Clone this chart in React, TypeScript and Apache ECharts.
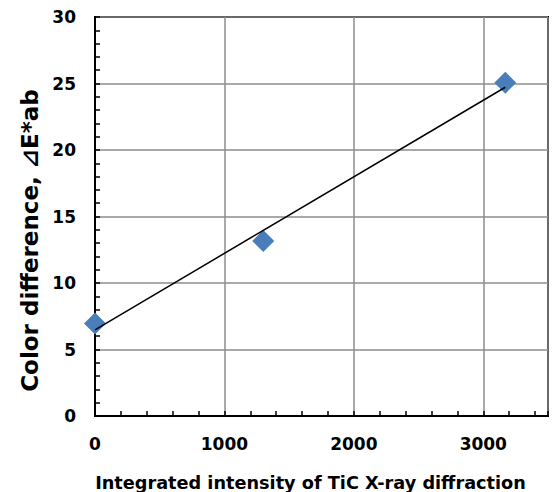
import React, { useEffect, useRef } from "react";
import * as echarts from "echarts";

const xValues = [0, 1300, 3170];
const yValues = [6.95, 13.15, 25.05];
const xTitle = "Integrated intensity of TiC X-ray diffraction";
const yTitle = "Color difference, \u22BFE*ab";

function fit(xs: number[], ys: number[]) {
  const n = xs.length;
  const mx = xs.reduce((a, b) => a + b, 0) / n;
  const my = ys.reduce((a, b) => a + b, 0) / n;
  let sxy = 0, sxx = 0;
  for (let i = 0; i < n; i++) {
    sxy += (xs[i] - mx) * (ys[i] - my);
    sxx += (xs[i] - mx) ** 2;
  }
  const k = sxy / sxx;
  return { k, b: my - k * mx };
}

export default function App() {
  const ref = useRef<HTMLDivElement>(null);
  useEffect(() => {
    if (!ref.current) return;
    const chart = echarts.init(ref.current, undefined, { renderer: "svg" });
    const { k, b } = fit(xValues, yValues);
    const x0 = Math.min(...xValues);
    const x1 = Math.max(...xValues);
    const font = "'DejaVu Sans', sans-serif";
    chart.setOption({
      animation: false,
      backgroundColor: "#fff",
      grid: {
        left: 95, right: 5, top: 17, bottom: 76,
        containLabel: false, outerBoundsMode: "none",
        show: true, borderColor: "#000", borderWidth: 2, backgroundColor: "transparent",
      },
      xAxis: [
        {
          type: "value", min: 0, max: 3500, interval: 1000, position: "bottom",
          axisLine: { show: true, onZero: false, lineStyle: { color: "#000", width: 2 } },
          axisTick: { show: false },
          splitLine: { show: true, lineStyle: { color: "#8c8c8c", width: 1.5 } },
          axisLabel: {
            showMaxLabel: false, margin: 19, color: "#000", fontFamily: font,
            fontWeight: "bold", fontSize: 17,
            formatter: (v: number) => (v % 1000 === 0 ? String(v) : ""),
          },
          name: xTitle, nameLocation: "middle", nameGap: 58,
          nameTextStyle: {
            color: "#000", fontFamily: font, fontWeight: "bold", fontSize: 17.7,
            padding: [0, 22, 0, 0],
          },
        },
        {
          type: "value", min: 0, max: 3500, interval: 200, position: "bottom",
          axisLine: { show: false },
          axisTick: { show: true, inside: true, length: 5, lineStyle: { color: "#000", width: 1.5 } },
          splitLine: { show: false },
          axisLabel: { show: false },
        },
      ],
      yAxis: {
        type: "value", min: 0, max: 30, interval: 5,
        axisLine: { show: true, onZero: false, lineStyle: { color: "#000", width: 2 } },
        axisTick: { show: true, inside: true, length: 5, lineStyle: { color: "#000", width: 1.5 } },
        minorTick: { show: true, splitNumber: 5, length: 5, lineStyle: { color: "#000", width: 1.5 } },
        splitLine: { show: true, lineStyle: { color: "#8c8c8c", width: 1.5 } },
        axisLabel: { margin: 19, color: "#000", fontFamily: font, fontWeight: "bold", fontSize: 17 },
        name: yTitle, nameLocation: "middle", nameGap: 48,
        nameTextStyle: {
          color: "#000", fontFamily: font, fontWeight: "bold", fontSize: 23,
          padding: [0, 48, 0, 0],
        },
      },
      series: [
        {
          type: "scatter", xAxisIndex: 0,
          data: xValues.map((x, i) => [x, yValues[i]]),
          symbol: "diamond", symbolSize: 22,
          itemStyle: { color: "#4a7ebb", opacity: 1 }, z: 2,
        },
        {
          type: "line", xAxisIndex: 0,
          data: [[x0, k * x0 + b], [x1, k * x1 + b]],
          symbol: "none", lineStyle: { color: "#000", width: 1.5 }, z: 3,
        },
      ],
    });
    return () => chart.dispose();
  }, []);
  return <div ref={ref} style={{ position: "fixed", left: 0, top: 0, width: 553, height: 492 }} />;
}
